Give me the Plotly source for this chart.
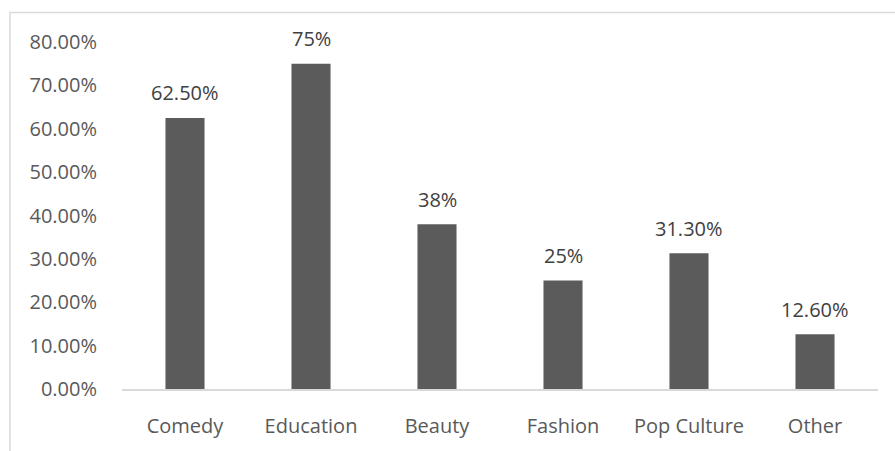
import plotly.graph_objects as go

categories = ["Comedy", "Education", "Beauty", "Fashion", "Pop Culture", "Other"]
values = [0.625, 0.75, 0.38, 0.25, 0.313, 0.126]
value_labels = ["62.50%", "75%", "38%", "25%", "31.30%", "12.60%"]
y_ticks = [0, 0.1, 0.2, 0.3, 0.4, 0.5, 0.6, 0.7, 0.8]

FONT = "Open Sans"
W, H = 895, 451
ML, MR, MT, MB = 122, 17, 42, 55
pw = W - ML - MR
ph = H - MT - MB

fig = go.Figure()
fig.add_trace(go.Bar(x=categories, y=values, marker=dict(color="#5b5b5b", line=dict(width=0)),
                     hoverinfo="skip"))

for c, v, t in zip(categories, values, value_labels):
    fig.add_annotation(x=c, y=v, text=t, showarrow=False, yanchor="middle", yshift=25,
                       font=dict(family=FONT, size=20, color="#404040"))

# chart frame (offset like the source)
fx0 = (10 - ML) / pw
fy1 = (H - 12 - MB) / ph
fig.add_shape(type="rect", xref="paper", yref="paper", x0=fx0, x1=1.5, y0=-1, y1=fy1,
              line=dict(color="#d9d9d9", width=1.5), fillcolor="rgba(0,0,0,0)", layer="below")

fig.update_layout(
    width=W, height=H,
    margin=dict(l=ML, r=MR, t=MT, b=MB),
    paper_bgcolor="white", plot_bgcolor="white",
    bargap=0.69, showlegend=False,
    font=dict(family=FONT, size=20, color="#595959"),
    xaxis=dict(showline=True, linecolor="#d9d9d9", linewidth=1.5, showgrid=False,
               ticks="", ticklabelstandoff=18, tickfont=dict(family=FONT, size=20, color="#595959")),
    yaxis=dict(range=[0, 0.8], tickvals=y_ticks, tickformat=".2%", showgrid=False,
               zeroline=False, showline=False, ticks="", ticklabelstandoff=24,
               tickfont=dict(family=FONT, size=20, color="#595959")),
)

fig.write_html("out.html")
